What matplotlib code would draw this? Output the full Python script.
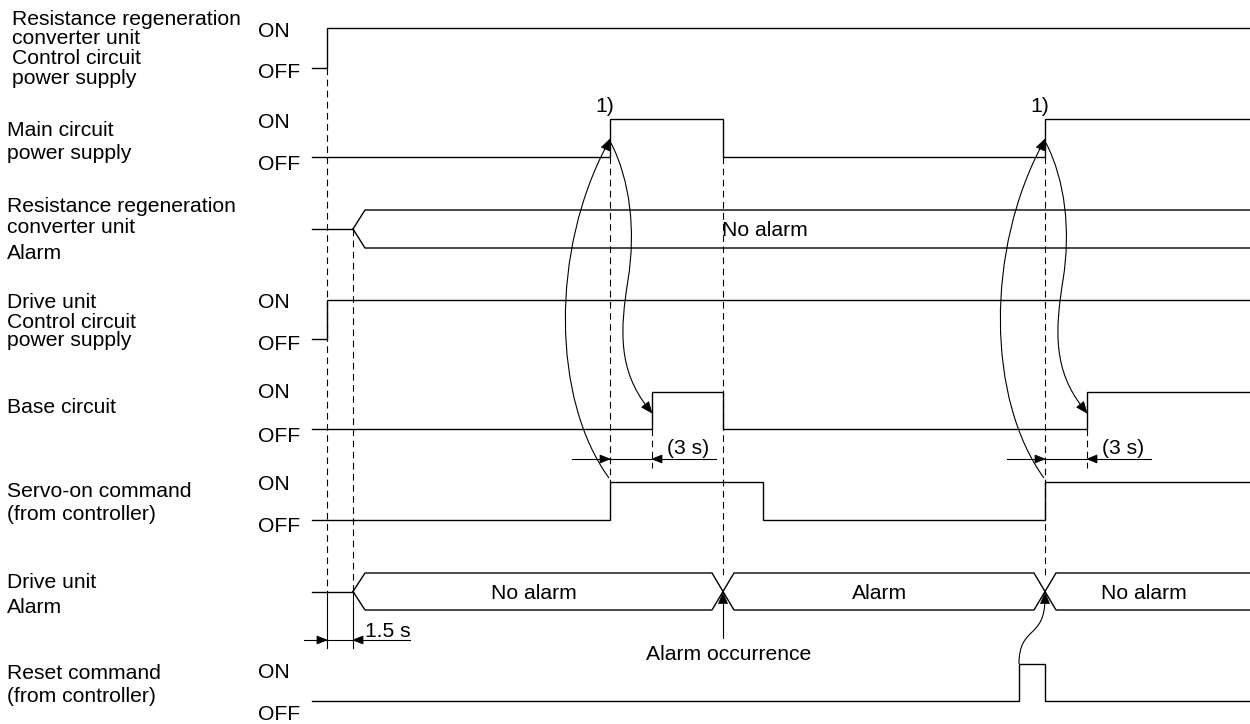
import numpy as np
import matplotlib.pyplot as plt
from matplotlib.path import Path
from matplotlib.patches import PathPatch, Polygon

plt.rcParams['font.family'] = ['Liberation Sans', 'DejaVu Sans']

# time axis (pixels of the original drawing)
t_start, t_end = 312, 1250
t_power_on = 327          # control power switched on
t_alarm_ready = 353       # 1.5 s later the alarm outputs settle

main_edges = [610, 723, 1045]     # main circuit power supply
base_edges = [652, 723, 1087]     # base circuit
servo_edges = [610, 763, 1045]    # servo-on command
reset_edges = [1019, 1045]        # reset command
alarm_cross = [723, 1045]         # drive unit alarm changes
alarm_states = ['No alarm', 'Alarm', 'No alarm']

# row labels: (text lines, baselines, left x)
row_labels = [
    (['Resistance regeneration', 'converter unit', 'Control circuit', 'power supply'], [25, 44, 64, 84], 12),
    (['Main circuit', 'power supply'], [136, 159], 7),
    (['Resistance regeneration', 'converter unit', 'Alarm'], [212, 233, 259], 7),
    (['Drive unit', 'Control circuit', 'power supply'], [308, 328, 346], 7),
    (['Base circuit'], [413], 7),
    (['Servo-on command', '(from controller)'], [497, 520], 7),
    (['Drive unit', 'Alarm'], [588, 613], 7),
    (['Reset command', '(from controller)'], [679, 702], 7),
]
# ON / OFF text baselines
onoff_labels = [(37, 78), (128, 170), (308, 350), (398, 442), (490, 532), (678, 720)]

# signal levels (on_y, off_y)
lv_rrcu = (28, 68)
lv_main = (119, 157)
lv_drive = (300, 339)
lv_base = (392, 429)
lv_servo = (482, 520)
lv_reset = (664, 701)
bus_rrcu = (210, 248)
bus_drive = (573, 610)

FS = 15.2
LW = 1.0

fig = plt.figure(figsize=(12.5, 7.24), dpi=100)
ax = fig.add_axes([0, 0, 1, 1])
ax.set_xlim(0, 1250)
ax.set_ylim(724, 0)
ax.axis('off')


def step(edges, lv, start_on=False):
    on = start_on
    xs, ys = [t_start], [lv[0] if on else lv[1]]
    for e in edges:
        xs += [e, e]
        ys += [lv[0] if on else lv[1], lv[1] if on else lv[0]]
        on = not on
    xs.append(t_end)
    ys.append(lv[0] if on else lv[1])
    ax.plot(xs, ys, color='black', lw=LW, solid_joinstyle='miter')


def bus(crosses, lv, w=11, open_w=12):
    top, bot = lv
    mid = (top + bot) / 2
    ax.plot([t_start, t_alarm_ready], [mid, mid], color='black', lw=LW)
    a = [(t_alarm_ready, mid), (t_alarm_ready + open_w, top)]
    b = [(t_alarm_ready, mid), (t_alarm_ready + open_w, bot)]
    for c in crosses:
        a += [(c - w, a[-1][1]), (c + w, bot if a[-1][1] == top else top)]
        b += [(c - w, b[-1][1]), (c + w, bot if b[-1][1] == top else top)]
    a.append((t_end, a[-1][1]))
    b.append((t_end, b[-1][1]))
    for p in (a, b):
        p = np.array(p)
        ax.plot(p[:, 0], p[:, 1], color='black', lw=LW)


def head(x, y, dx, dy, L=11, hw=4.5):
    d = np.array([dx, dy], float)
    d /= np.hypot(*d)
    n = np.array([-d[1], d[0]])
    tip = np.array([x, y])
    base = tip - d * L
    ax.add_patch(Polygon([tip, base + n * hw, base - n * hw], closed=True,
                         facecolor='black', edgecolor='black', lw=0.5))


def curve(pts):
    codes = [Path.MOVETO] + [Path.CURVE4] * (len(pts) - 1)
    ax.add_patch(PathPatch(Path(pts, codes), facecolor='none', edgecolor='black', lw=0.8))


def dashed(x, y0, y1):
    ax.plot([x, x], [y0, y1], color='black', lw=0.8, dashes=(6, 4))


# labels
for lines, bls, lx in row_labels:
    for s, b in zip(lines, bls):
        ax.text(lx, b, s, fontsize=FS, va='baseline', ha='left')
for on_b, off_b in onoff_labels:
    ax.text(258, on_b, 'ON', fontsize=FS, va='baseline', ha='left')
    ax.text(258, off_b, 'OFF', fontsize=FS, va='baseline', ha='left')

# signals
step([t_power_on], lv_rrcu)
step(main_edges, lv_main)
step([t_power_on], lv_drive)
step(base_edges, lv_base)
step(servo_edges, lv_servo)
step(reset_edges, lv_reset)
bus([], bus_rrcu)
bus(alarm_cross, bus_drive)

ax.text(765, sum(bus_rrcu) / 2, 'No alarm', fontsize=FS, ha='center', va='center_baseline')
bounds = [t_alarm_ready] + alarm_cross + [t_end]
for s, l, r in zip(alarm_states, bounds[:-1], bounds[1:]):
    ax.text((l + r) / 2 - 4, sum(bus_drive) / 2, s, fontsize=FS, ha='center', va='center_baseline')

# dashed guides
mid_drive = sum(bus_drive) / 2
dashed(t_power_on, lv_rrcu[1], mid_drive)
dashed(t_alarm_ready, sum(bus_rrcu) / 2, mid_drive)
ax.plot([t_power_on, t_power_on], [mid_drive, 648], color='black', lw=0.8)
ax.plot([t_alarm_ready, t_alarm_ready], [mid_drive, 648], color='black', lw=0.8)
dashed(main_edges[0], lv_main[1], lv_servo[0])
dashed(main_edges[1], lv_main[1], bus_drive[0] + 3)
dashed(main_edges[2], lv_main[1], bus_drive[0] + 5)
dashed(base_edges[0], lv_base[1], 468)
dashed(base_edges[2], lv_base[1], 468)

# 1.5 s dimension
ax.plot([304, 410], [640, 640], color='black', lw=0.8)
head(t_power_on, 640, 1, 0, L=10, hw=4)
head(t_alarm_ready, 640, -1, 0, L=10, hw=4)
ax.text(365, 637, '1.5 s', fontsize=FS, va='baseline', ha='left')

# 3 s dimensions and curved cause arrows
for e_main, e_base in [(main_edges[0], base_edges[0]), (main_edges[2], base_edges[2])]:
    ax.plot([e_main - 38, e_base + 64], [459, 459], color='black', lw=0.8)
    head(e_main, 459, 1, 0, L=10, hw=4)
    head(e_base, 459, -1, 0, L=10, hw=4)
    ax.text(e_base + 36, 446, '(3 s)', fontsize=FS, ha='center', va='center_baseline')
    ax.text(e_main - 5, 105, '1)', fontsize=FS, ha='center', va='center_baseline')
    # servo-on -> main circuit power
    curve([(e_main - 1, 478), (e_main - 58, 400), (e_main - 60, 250), (e_main - 2, 143)])
    head(e_main, 139, 0.45, -1)
    # main circuit power -> base circuit
    curve([(e_main + 1, 143), (e_main + 20, 180), (e_main + 26, 230), (e_main + 18, 280),
           (e_main + 10, 330), (e_main + 8, 370), (e_base - 4, 408)])
    head(e_base, 413, 0.8, 1)

# reset -> alarm cleared
curve([(reset_edges[0], lv_reset[0]), (reset_edges[0], 625), (alarm_cross[1], 640), (alarm_cross[1], 598)])
head(alarm_cross[1], mid_drive + 1, 0, -1)

# alarm occurrence
ax.plot([alarm_cross[0], alarm_cross[0]], [638, 600], color='black', lw=0.8)
head(alarm_cross[0], mid_drive + 1, 0, -1)
ax.text(729, 652, 'Alarm occurrence', fontsize=FS, ha='center', va='center_baseline')

fig.savefig('out.png', dpi=100)
